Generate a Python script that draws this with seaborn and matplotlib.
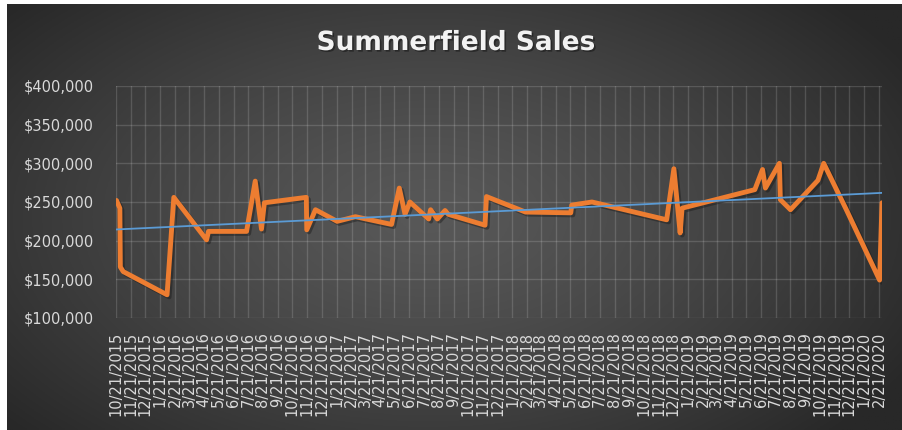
import numpy as np
import pandas as pd
import matplotlib
matplotlib.use("Agg")
import matplotlib.pyplot as plt
import matplotlib.dates as mdates
import matplotlib.patheffects as pe
import seaborn as sns

# sales readings (date, amount)
sale_dates = [
    "2015-10-22", "2015-10-29", "2015-10-30", "2015-11-05", "2016-02-04",
    "2016-02-18", "2016-04-26", "2016-04-30", "2016-07-18", "2016-08-05",
    "2016-08-18", "2016-08-24", "2016-11-19", "2016-11-20", "2016-12-08",
    "2017-01-22", "2017-03-01", "2017-05-15", "2017-05-31", "2017-06-12",
    "2017-06-22", "2017-07-31", "2017-08-04", "2017-08-18", "2017-09-03",
    "2017-09-10", "2017-11-25", "2017-11-28", "2018-02-17", "2018-05-22",
    "2018-05-24", "2018-07-05", "2018-12-07", "2018-12-22", "2019-01-04",
    "2019-01-08", "2019-06-08", "2019-06-24", "2019-06-30", "2019-07-29",
    "2019-07-31", "2019-08-21", "2019-10-17", "2019-10-29", "2019-12-15",
    "2020-02-22", "2020-02-27",
]
sale_amounts = [
    252000, 242000, 166000, 160000, 130000,
    256000, 201000, 212000, 212000, 277000,
    215000, 249000, 256000, 214000, 240000,
    225000, 231000, 221000, 268000, 234000,
    250000, 228000, 240000, 228000, 239000,
    234000, 220000, 257000, 237000, 236000,
    246000, 250000, 227000, 293000, 210000,
    242000, 266000, 292000, 268000, 300000,
    253000, 240000, 278000, 300000, 240000,
    149000, 249000,
]
y_ticks = [100000, 150000, 200000, 250000, 300000, 350000, 400000]

df = pd.DataFrame({"date": pd.to_datetime(sale_dates), "sales": sale_amounts})

ORANGE = "#ED7D31"
BLUE = "#5B9BD5"
TXT = "#d9d9d9"

sns.set_theme(style="white")
plt.rcParams["font.family"] = ["DejaVu Sans"]

fig = plt.figure(figsize=(9.03, 4.30), dpi=100)
fig.patch.set_facecolor("white")

# dark radial gradient behind the chart
bg = fig.add_axes([7 / 903, 0, 896 / 903, 426 / 430])
gx, gy = np.meshgrid(np.linspace(0, 1, 400), np.linspace(0, 1, 200))
d = np.sqrt(((gx - 0.47) / 0.62) ** 2 + ((gy - 0.5) / 0.75) ** 2)
d = np.clip(d, 0, 1) ** 1.3
shade = (88 + (40 - 88) * d) / 255.0
bg.imshow(np.dstack([shade, shade, shade]), aspect="auto", extent=[0, 1, 0, 1])
bg.set_axis_off()

ax = fig.add_axes([116 / 903, 112 / 430, 766 / 903, 232 / 430])
ax.set_facecolor("none")

sns.lineplot(data=df, x="date", y="sales", ax=ax, color=ORANGE, lw=3.5,
             sort=False, estimator=None, zorder=3,
             path_effects=[pe.SimpleLineShadow(offset=(1.5, -1.5), shadow_color="k", alpha=0.45),
                           pe.Normal()])

# linear trendline
xn = mdates.date2num(df["date"])
k, b = np.polyfit(xn, df["sales"], 1)
x0, x1 = mdates.date2num(pd.Timestamp("2015-10-21")), mdates.date2num(pd.Timestamp("2020-02-27"))
ax.plot([x0, x1], [k * x0 + b, k * x1 + b], color=BLUE, lw=1.3, zorder=4)

ax.set_xlim(x0, x1)
ax.set_ylim(100000, 400000)

months = pd.date_range("2015-10-21", "2020-02-21", freq=pd.DateOffset(months=1))
ax.set_xticks(mdates.date2num(months))
ax.set_xticklabels([f"{m.month}/{m.day}/{m.year}" for m in months], rotation=90,
                   fontsize=10.5, color=TXT, va="top", ha="center")
ax.set_yticks(y_ticks)
ax.set_yticklabels([f"${v:,}" for v in y_ticks], fontsize=10.5, color=TXT)
ax.tick_params(axis="x", length=0, pad=10)
ax.tick_params(axis="y", length=0, pad=16)

ax.grid(True, color="white", alpha=0.15, lw=1)
for s in ax.spines.values():
    s.set_visible(False)
ax.set_xlabel("")
ax.set_ylabel("")

fig.text(0.505, 0.9, "Summerfield Sales", ha="center", va="center", color="#f2f2f2",
         fontsize=19, fontweight="bold",
         path_effects=[pe.withSimplePatchShadow(offset=(1.2, -1.2), shadow_rgbFace="k", alpha=0.6)])

fig.savefig("out.png", dpi=100)
